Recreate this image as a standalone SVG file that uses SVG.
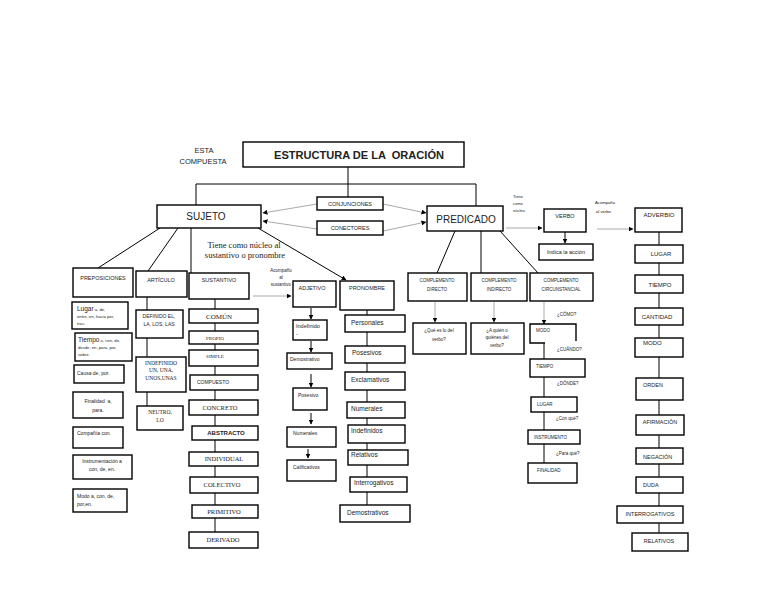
<svg xmlns="http://www.w3.org/2000/svg" width="768" height="594" viewBox="0 0 768 594">
<defs>
<style>
.b{fill:#fff;stroke:#000;stroke-width:1.4}
.t{font-family:"Liberation Sans",Arial,sans-serif;font-size:5.5px;fill:#222}
.m{text-anchor:middle}
.s{font-family:"Liberation Serif","Times New Roman",serif}
.c{stroke:#000;stroke-width:1;fill:none}
.g{stroke:#aaa;stroke-width:1;fill:none}
</style>
<marker id="ah" viewBox="0 0 10 10" refX="9" refY="5" markerWidth="5" markerHeight="5" orient="auto"><path d="M0,0 L10,5 L0,10 z" fill="#000"/></marker>
</defs>
<rect width="768" height="594" fill="#fff"/>
<g id="connectors">
<path class="c" d="M348,167 L348,198 M196,184 L476,184 M196,184 L196,205 M476,184 L476,206"/>
<path class="c" d="M160,228 L98,268 M178,228 L148,271 M191,228 L191,273"/>
<path class="c" d="M147,297 L147,406 M215,299 L215,532 M367,310 L367,505"/>
<path class="c" d="M455,231 L437,273 M481,231 L481,273 M500,231 L538,273"/>
<path class="c" d="M544,343 L544,463 M659,232 L659,533"/>
<path class="c" d="M258,228 L346,280" marker-end="url(#ah)"/>
<path class="g" d="M317,204 L263,213" marker-end="url(#ah)"/>
<path class="g" d="M317,229 L263,221" marker-end="url(#ah)"/>
<path class="g" d="M383,204 L426,213" marker-end="url(#ah)"/>
<path class="g" d="M383,231 L426,222" marker-end="url(#ah)"/>
<path class="g" d="M506,228 L542,228" marker-end="url(#ah)"/>
<path class="c" d="M565,232 L565,243" marker-end="url(#ah)"/>
<path class="g" d="M597,229 L633,229" marker-end="url(#ah)"/>
<path class="g" d="M253,296 L291,296" marker-end="url(#ah)"/>
<path class="c" d="M311,308 L311,319" marker-end="url(#ah)"/>
<path class="c" d="M311,341 L311,352" marker-end="url(#ah)"/>
<path class="c" d="M311,374 L311,387" marker-end="url(#ah)"/>
<path class="c" d="M311,413 L311,424" marker-end="url(#ah)"/>
<path class="c" d="M308,449 L308,458" marker-end="url(#ah)"/>
<path class="g" d="M435,302 L435,322" marker-end="url(#ah)"/>
<path class="g" d="M494,302 L494,322" marker-end="url(#ah)"/>
<path class="g" d="M544,302 L544,324" marker-end="url(#ah)"/>
</g>
<g id="esta">
<text class="t m" x="204" y="153" style="font-size:7.5px">ESTA</text>
<text class="t m" x="203" y="164" style="font-size:7.5px">COMPUESTA</text>
</g>
<g id="titulo"><rect class="b" x="243" y="142" width="221" height="25"/><text class="t m" x="359" y="159" style="font-size:11px;font-weight:bold" xml:space="preserve" textLength="170" lengthAdjust="spacingAndGlyphs">ESTRUCTURA DE LA  ORACIÓN</text></g>
<g id="sujeto"><rect class="b" x="157" y="205" width="104" height="23"/><text class="t m" x="206" y="220" style="font-size:10px">SUJETO</text></g>
<g id="predicado"><rect class="b" x="427" y="206" width="76" height="25"/><text class="t m" x="466" y="223" style="font-size:10px">PREDICADO</text></g>
<g id="conjunciones"><rect class="b" x="317" y="197" width="66" height="13"/><text class="t m" x="350" y="206" style="font-size:5.5px">CONJUNCIONES</text></g>
<g id="conectores"><rect class="b" x="317" y="221" width="66" height="14"/><text class="t m" x="350" y="230" style="font-size:5.5px">CONECTORES</text></g>
<g id="nucleo-label"><text class="t s m" x="244" y="248" style="font-size:8.5px">Tiene como núcleo al</text><text class="t s m" x="245" y="258" style="font-size:8.5px">sustantivo o pronombre</text></g>
<g id="acompana-sust"><text class="t m" x="281" y="272" style="font-size:4.5px">Acompaño</text><text class="t m" x="281" y="279" style="font-size:4.5px">al</text><text class="t m" x="281" y="286" style="font-size:4.5px">sustantivo</text></g>
<g id="preposiciones"><rect class="b" x="73" y="268" width="60" height="29"/><text class="t m" x="103" y="280" style="font-size:5.5px">PREPOSICIONES</text></g>
<g id="lugar-p"><rect class="b" x="72" y="302" width="56" height="27"/><text class="t" x="77" y="311"><tspan style="font-size:6.5px">Lugar</tspan><tspan style="font-size:4.2px"> a, de,</tspan></text><text class="t" x="77" y="318" style="font-size:4.2px">entre, en, hacia por,</text><text class="t" x="77" y="325" style="font-size:4.2px">tras.</text></g>
<g id="tiempo-p"><rect class="b" x="75" y="333" width="57" height="28"/><text class="t" x="78" y="342"><tspan style="font-size:6.5px">Tiempo</tspan><tspan style="font-size:4.2px"> a, con, de,</tspan></text><text class="t" x="78" y="349" style="font-size:4.2px">desde, en, para, por,</text><text class="t" x="78" y="356" style="font-size:4.2px">sobre.</text></g>
<g id="causa"><rect class="b" x="74" y="365" width="50" height="18"/><text class="t" x="77" y="375" style="font-size:5px">Causa de, por.</text></g>
<g id="finalidad-p"><rect class="b" x="73" y="392" width="50" height="26"/><text class="t m" x="98" y="403" style="font-size:5px" xml:space="preserve">Finalidad  a,</text><text class="t m" x="98" y="412" style="font-size:5px">para.</text></g>
<g id="compania"><rect class="b" x="73" y="427" width="50" height="21"/><text class="t" x="77" y="435" style="font-size:5px">Compañía con.</text></g>
<g id="instrumentacion"><rect class="b" x="73" y="455" width="59" height="24"/><text class="t m" x="102" y="463" style="font-size:5px">Instrumentación a</text><text class="t m" x="102" y="471" style="font-size:5px">con, de, en.</text></g>
<g id="modo-p"><rect class="b" x="73" y="489" width="54" height="23"/><text class="t" x="77" y="498" style="font-size:5px">Modo a, con, de,</text><text class="t" x="77" y="506" style="font-size:5px">por,en.</text></g>
<g id="articulo"><rect class="b" x="136" y="271" width="51" height="26"/><text class="t m" x="161" y="282" style="font-size:5.5px">ARTÍCULO</text></g>
<g id="definido"><rect class="b" x="136" y="310" width="47" height="28"/><text class="t m" x="159" y="318" style="font-size:5px">DEFINIDO EL,</text><text class="t m" x="159" y="326" style="font-size:5px">LA, LOS, LAS</text></g>
<g id="indefinido-a"><rect class="b" x="136" y="357" width="50" height="35"/><text class="t s m" x="161" y="365" style="font-size:5.5px">INDEFINIDO</text><text class="t s m" x="161" y="372" style="font-size:5.5px">UN, UNA,</text><text class="t s m" x="161" y="380" style="font-size:5.5px">UNOS,UNAS</text></g>
<g id="neutro"><rect class="b" x="137" y="406" width="46" height="24"/><text class="t s m" x="160" y="414" style="font-size:5.5px">NEUTRO,</text><text class="t s m" x="160" y="422" style="font-size:5.5px">LO</text></g>
<g id="sustantivo"><rect class="b" x="189" y="273" width="60" height="26"/><text class="t m" x="219" y="282" style="font-size:5.5px">SUSTANTIVO</text></g>
<g id="comun"><rect class="b" x="189" y="309" width="69" height="14"/><text class="t s m" x="219" y="319" style="font-size:7px">COMÚN</text></g>
<g id="propio"><rect class="b" x="189" y="331" width="69" height="13"/><text class="t s m" x="215" y="340" style="font-size:5px">PROPIO</text></g>
<g id="simple"><rect class="b" x="189" y="350" width="69" height="16"/><text class="t s m" x="215" y="358" style="font-size:5px">SIMPLE</text></g>
<g id="compuesto"><rect class="b" x="190" y="375" width="68" height="15"/><text class="t m" x="213" y="384" style="font-size:5px">COMPUESTO</text></g>
<g id="concreto"><rect class="b" x="189" y="400" width="69" height="15"/><text class="t s m" x="220" y="410" style="font-size:6.5px">CONCRETO</text></g>
<g id="abstracto"><rect class="b" x="192" y="426" width="66" height="14"/><text class="t m" x="226" y="435" style="font-size:6px;font-weight:bold">ABSTRACTO</text></g>
<g id="individual"><rect class="b" x="189" y="452" width="69" height="14"/><text class="t s m" x="224" y="461" style="font-size:6.5px">INDIVIDUAL</text></g>
<g id="colectivo"><rect class="b" x="190" y="477" width="68" height="16"/><text class="t s m" x="222" y="487" style="font-size:6.5px">COLECTIVO</text></g>
<g id="primitivo"><rect class="b" x="192" y="505" width="66" height="13"/><text class="t s m" x="224" y="514" style="font-size:6.5px">PRIMITIVO</text></g>
<g id="derivado"><rect class="b" x="189" y="532" width="69" height="16"/><text class="t s m" x="223" y="542" style="font-size:6.5px">DERIVADO</text></g>
<g id="adjetivo"><rect class="b" x="293" y="281" width="43" height="26"/><text class="t m" x="312" y="290" style="font-size:5.5px">ADJETIVO</text></g>
<g id="indefinido-adj"><rect class="b" x="293" y="320" width="34" height="20"/><text class="t" x="296" y="328" style="font-size:5.5px">Indefinido</text><text class="t" x="296" y="336" style="font-size:5.5px">-</text></g>
<g id="demostrativo-adj"><rect class="b" x="287" y="353" width="45" height="16"/><text class="t" x="290" y="361" style="font-size:5px">Demostrativo</text></g>
<g id="posesivo-adj"><rect class="b" x="293" y="388" width="34" height="22"/><text class="t" x="298" y="397" style="font-size:5px">Posesivo</text></g>
<g id="numerales-adj"><rect class="b" x="287" y="427" width="49" height="20"/><text class="t" x="293" y="435" style="font-size:5px">Numerales</text></g>
<g id="calificativos"><rect class="b" x="287" y="460" width="49" height="21"/><text class="t" x="293" y="469" style="font-size:5px">Calificativos</text></g>
<g id="pronombre"><rect class="b" x="340" y="281" width="54" height="29"/><text class="t m" x="367" y="290" style="font-size:5.5px">PRONOMBRE</text></g>
<g id="personales"><rect class="b" x="345" y="315" width="60" height="17"/><text class="t" x="351" y="325" style="font-size:6.5px">Personales</text></g>
<g id="posesivos"><rect class="b" x="345" y="346" width="60" height="17"/><text class="t" x="352" y="355" style="font-size:6.5px">Posesivos</text></g>
<g id="exclamativos"><rect class="b" x="345" y="372" width="60" height="18"/><text class="t" x="351" y="382" style="font-size:6.5px">Exclamativos</text></g>
<g id="numerales-pro"><rect class="b" x="347" y="402" width="58" height="16"/><text class="t" x="351" y="411" style="font-size:6.5px">Numerales</text></g>
<g id="indefinidos"><rect class="b" x="348" y="425" width="57" height="18"/><text class="t" x="351" y="433" style="font-size:6.5px">Indefinidos</text></g>
<g id="relativos-pro"><rect class="b" x="348" y="450" width="60" height="15"/><text class="t" x="351" y="457" style="font-size:6.5px">Relativos</text></g>
<g id="interrogativos-pro"><rect class="b" x="350" y="477" width="57" height="15"/><text class="t" x="354" y="485" style="font-size:6.5px">Interrogativos</text></g>
<g id="demostrativos-pro"><rect class="b" x="340" y="505" width="70" height="17"/><text class="t" x="347" y="515" style="font-size:6.5px">Demostrativos</text></g>
<g id="nucleo-verbo"><text class="t" x="513" y="198" style="font-size:4px">Tiene</text><text class="t" x="513" y="205" style="font-size:4px">como</text><text class="t" x="513" y="212" style="font-size:4px">núcleo</text></g>
<g id="verbo"><rect class="b" x="544" y="209" width="42" height="23"/><text class="t m" x="565" y="218" style="font-size:5.5px">VERBO</text></g>
<g id="indica"><rect class="b" x="539" y="244" width="54" height="16"/><text class="t m" x="566" y="254" style="font-size:5.5px">Indica la acción</text></g>
<g id="acompana-verbo"><text class="t" x="595" y="204" style="font-size:4.2px">Acompaña</text><text class="t" x="596" y="213" style="font-size:4.2px">al verbo</text></g>
<g id="c-directo"><rect class="b" x="408" y="273" width="59" height="28"/><text class="t m" x="437" y="282" style="font-size:4.5px">COMPLEMENTO</text><text class="t m" x="437" y="291" style="font-size:4.5px">DIRECTO</text></g>
<g id="c-indirecto"><rect class="b" x="471" y="273" width="56" height="28"/><text class="t m" x="499" y="282" style="font-size:4.5px">COMPLEMENTO</text><text class="t m" x="499" y="291" style="font-size:4.5px">INDIRECTO</text></g>
<g id="c-circunstancial"><rect class="b" x="530" y="273" width="63" height="28"/><text class="t m" x="561" y="282" style="font-size:4.5px">COMPLEMENTO</text><text class="t m" x="561" y="291" style="font-size:4.5px">CIRCUNSTANCIAL</text></g>
<g id="que-es"><rect class="b" x="413" y="323" width="53" height="31"/><text class="t m" x="439" y="332" style="font-size:4.5px">¿Qué es lo del</text><text class="t m" x="439" y="341" style="font-size:4.5px">verbo?</text></g>
<g id="a-quien"><rect class="b" x="471" y="323" width="53" height="31"/><text class="t m" x="497" y="332" style="font-size:4.5px">¿A quién o</text><text class="t m" x="497" y="339" style="font-size:4.5px">quiénes del</text><text class="t m" x="497" y="347" style="font-size:4.5px">verbo?</text></g>
<g id="modo-cc"><path class="b" style="fill:none" d="M545,343 L530,343 L530,324 L576,324 L576,341"/><text class="t" x="536" y="332" style="font-size:4.5px">MODO</text></g>
<g id="tiempo-cc"><rect class="b" x="530" y="359" width="55" height="18"/><text class="t" x="536" y="368" style="font-size:4.5px">TIEMPO</text></g>
<g id="lugar-cc"><rect class="b" x="531" y="397" width="46" height="15"/><text class="t" x="537" y="406" style="font-size:4.5px">LUGAR</text></g>
<g id="instrumento"><rect class="b" x="528" y="430" width="52" height="14"/><text class="t" x="534" y="439" style="font-size:4.5px">INSTRUMENTO</text></g>
<g id="finalidad-cc"><rect class="b" x="528" y="463" width="49" height="20"/><text class="t" x="537" y="472" style="font-size:4.5px">FINALIDAD</text></g>
<g id="preguntas"><text class="t" x="557" y="316" style="font-size:4.5px">¿CÓMO?</text><text class="t" x="557" y="351" style="font-size:4.5px">¿CUÁNDO?</text><text class="t" x="557" y="385" style="font-size:4.5px">¿DÓNDE?</text><text class="t" x="556" y="420" style="font-size:4.5px">¿Con qué?</text><text class="t" x="556" y="455" style="font-size:4.5px">¿Para qué?</text></g>
<g id="adverbio"><rect class="b" x="635" y="208" width="47" height="24"/><text class="t m" x="659" y="217" style="font-size:6px">ADVERBIO</text></g>
<g id="lugar-adv"><rect class="b" x="635" y="245" width="48" height="18"/><text class="t m" x="661" y="256" style="font-size:6px">LUGAR</text></g>
<g id="tiempo-adv"><rect class="b" x="635" y="275" width="48" height="18"/><text class="t m" x="660" y="287" style="font-size:6px">TIEMPO</text></g>
<g id="cantidad"><rect class="b" x="635" y="308" width="48" height="17"/><text class="t m" x="657" y="319" style="font-size:6px">CANTIDAD</text></g>
<g id="modo-adv"><rect class="b" x="635" y="338" width="48" height="19"/><text class="t" x="643" y="345" style="font-size:6px">MODO</text></g>
<g id="orden"><rect class="b" x="636" y="378" width="47" height="22"/><text class="t" x="643" y="387" style="font-size:5.5px">ORDEN</text></g>
<g id="afirmacion"><rect class="b" x="636" y="415" width="48" height="20"/><text class="t m" x="660" y="424" style="font-size:5.5px">AFIRMACIÓN</text></g>
<g id="negacion"><rect class="b" x="636" y="448" width="47" height="16"/><text class="t" x="643" y="459" style="font-size:5.5px">NEGACIÓN</text></g>
<g id="duda"><rect class="b" x="636" y="477" width="47" height="16"/><text class="t" x="643" y="487" style="font-size:5.5px">DUDA</text></g>
<g id="interrogativos-adv"><rect class="b" x="617" y="506" width="66" height="17"/><text class="t m" x="650" y="516" style="font-size:5.5px">INTERROGATIVOS</text></g>
<g id="relativos-adv"><rect class="b" x="632" y="533" width="56" height="18"/><text class="t m" x="659" y="543" style="font-size:5.5px">RELATIVOS</text></g>
</svg>
